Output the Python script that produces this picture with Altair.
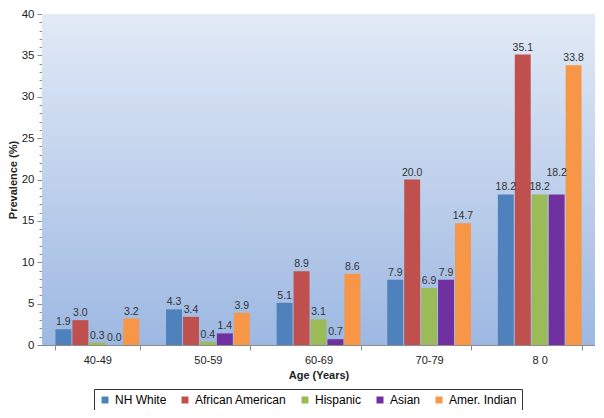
import altair as alt
import pandas as pd

ages = ["40-49", "50-59", "60-69", "70-79", "8 0"]
groups = ["NH White", "African American", "Hispanic", "Asian", "Amer. Indian"]
colors = ["#4F81BD", "#C0504D", "#9BBB59", "#7030A0", "#F79646"]
nh_white = [1.9, 4.3, 5.1, 7.9, 18.2]
african_american = [3.0, 3.4, 8.9, 20.0, 35.1]
hispanic = [0.3, 0.4, 3.1, 6.9, 18.2]
asian = [0.0, 1.4, 0.7, 7.9, 18.2]
amer_indian = [3.2, 3.9, 8.6, 14.7, 33.8]

series = [nh_white, african_american, hispanic, asian, amer_indian]
rows = []
for g, vals in zip(groups, series):
    for a, v in zip(ages, vals):
        rows.append({"age": a, "group": g, "value": v})
df = pd.DataFrame(rows)

W, H = 553, 331
FONT = "Liberation Sans"

bg = alt.Chart(pd.DataFrame({"a": [0]})).mark_rect(
    color=alt.LinearGradient(
        gradient="linear", x1=0, x2=0, y1=0, y2=1,
        stops=[alt.GradientStop(color="#e2eaf6", offset=0),
               alt.GradientStop(color="#9db8e2", offset=1)]
    )
).encode(x=alt.value(0), x2=alt.value(W), y=alt.value(0), y2=alt.value(H))

xenc = alt.X("age:N", sort=ages, title="Age (Years)",
             scale=alt.Scale(paddingInner=0.234, paddingOuter=0.117),
             axis=alt.Axis(labelAngle=0, tickBand="extent", labelFontSize=11,
                           titleFontSize=11, titleFontWeight="bold",
                           domainColor="#8c8c8c", tickColor="#8c8c8c",
                           labelColor="#222222", titleColor="#222222",
                           labelPadding=4, titlePadding=4, tickSize=5))
yaxis = alt.Axis(values=list(range(0, 41)),
                 labelExpr="datum.value % 5 === 0 ? datum.label : ''",
                 labelOverlap=False, grid=False,
                 tickSize={"condition": {"test": "datum.value % 5 === 0", "value": 5}, "value": 3},
                 labelFontSize=11.5, titleFontSize=11, titleFontWeight="bold",
                 domainColor="#8c8c8c", tickColor="#8c8c8c",
                 labelColor="#222222", titleColor="#222222",
                 titlePadding=3, labelPadding=3)
yscale = alt.Scale(domain=[0, 40], nice=False)
yenc = alt.Y("value:Q", title="Prevalence (%)", scale=yscale, axis=yaxis)

base = alt.Chart(df).encode(
    x=xenc,
    xOffset=alt.XOffset("group:N", sort=groups, scale=alt.Scale(paddingInner=0.06, paddingOuter=0.03)),
    y=yenc,
)

bars = base.mark_bar().encode(
    color=alt.Color("group:N", sort=groups,
                    scale=alt.Scale(domain=groups, range=colors),
                    legend=alt.Legend(title=None, orient="none", direction="horizontal",
                                      legendX=52, legendY=375,
                                      symbolType="square", symbolSize=49,
                                      labelFontSize=12, labelFont=FONT,
                                      strokeColor="#333333", padding=5,
                                      columnPadding=12, labelOffset=4, labelLimit=200,
                                      fillColor="white")),
)

raised = "datum.group === 'Asian' && datum.age === '8 0'"
text = base.mark_text(dy=-7, fontSize=10.5, color="#333333", font=FONT).encode(
    text=alt.Text("value:Q", format=".1f"),
).transform_filter("!(" + raised + ")")
text2 = base.mark_text(dy=-21, fontSize=10.5, color="#333333", font=FONT).encode(
    text=alt.Text("value:Q", format=".1f"),
).transform_filter(raised)

chart = alt.layer(bg, bars, text, text2).properties(
    width=W, height=H,
    autosize=alt.AutoSizeParams(type="none"),
    padding={"left": 34, "top": 6, "right": 0, "bottom": 65},
).configure(font=FONT).configure_view(stroke="#a6a6a6")

chart.save("out.html", embed_options={"renderer": "svg", "actions": False})
